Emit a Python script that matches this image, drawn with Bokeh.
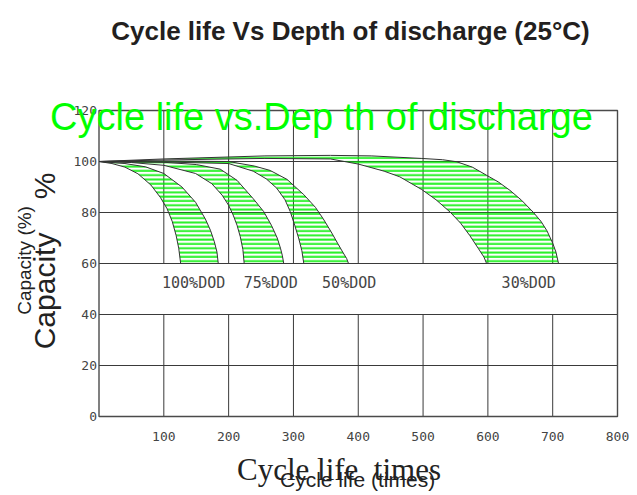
from bokeh.plotting import figure
from bokeh.models import Range1d
from bokeh.core.properties import value
from bokeh.embed import file_html
from bokeh.resources import INLINE

# ---------------- data ----------------
x_ticks = [100, 200, 300, 400, 500, 600, 700, 800]
y_ticks = [0, 20, 40, 60, 80, 100, 120]

dod_names = ["100%DOD", "75%DOD", "50%DOD", "30%DOD"]
dod_label_x = [146, 265, 386, 663]

inner_100_x = [0, 20, 40, 60, 80, 95, 105, 113, 119, 123, 126]
inner_100_y = [100, 99.2, 97.8, 95.2, 90.8, 85.8, 81.5, 76.5, 71, 66, 60]
outer_100_x = [0, 40, 72, 100, 128, 149, 164, 172, 178, 182, 184]
outer_100_y = [100, 99.2, 97.9, 95.3, 90, 84, 77.5, 73, 68.5, 64.5, 60]

inner_75_x = [0, 50, 100, 149, 174, 190, 200, 207, 213, 218, 222, 224]
inner_75_y = [100, 99.6, 98.5, 95.3, 91.3, 86.8, 82.8, 79, 75, 70.5, 65.5, 60]
outer_75_x = [0, 100, 150, 187, 213, 238, 254, 266, 275, 280, 283, 285]
outer_75_y = [100, 99.7, 98.8, 97, 92.6, 85.4, 80.4, 75, 70, 66, 63, 60]

inner_50_x = [0, 100, 200, 238, 258, 274, 287, 295, 302, 308, 313, 316]
inner_50_y = [100, 99.8, 99.2, 96.2, 93.2, 89.6, 85, 80.4, 75, 70, 65, 60]
outer_50_x = [0, 100, 200, 240, 264, 290, 316, 334, 346, 358, 368, 376, 382, 385]
outer_50_y = [100, 100.2, 100, 98.2, 96.5, 93, 87, 82, 77.5, 72.5, 68, 64.5, 62, 60]

inner_30_x = [0, 100, 256, 357, 400, 440, 464, 498, 520, 542, 558, 572, 585, 594, 598]
inner_30_y = [100, 100.6, 101.2, 101, 99, 96.2, 94, 89, 85, 80.1, 75.8, 71, 66, 62.5, 60]
outer_30_x = [0, 100, 256, 357, 420, 498, 530, 552, 576, 598, 616, 634, 652, 670, 682, 691, 700, 705, 709]
outer_30_y = [100, 101, 102.2, 102.4, 102.2, 101.2, 100.7, 99.9, 97.8, 94.6, 92, 88.7, 84.8, 80.1, 76.5, 72.9, 68, 64.5, 60]

bands = [
    (inner_100_x, inner_100_y, outer_100_x, outer_100_y),
    (inner_75_x, inner_75_y, outer_75_x, outer_75_y),
    (inner_50_x, inner_50_y, outer_50_x, outer_50_y),
    (inner_30_x, inner_30_y, outer_30_x, outer_30_y),
]

X_MIN, X_MAX = 0, 800
Y_MIN, Y_MAX = 0, 120

# ---------------- figure ----------------
# The plotting frame covers the whole canvas so that the overlapping titles
# (which lie outside the chart box) are not clipped; the chart box itself is
# drawn at x 0..800, y 0..120 in data units.
W, H = 630, 492
LEFT_PX, RIGHT_PX, TOP_PX, BOTTOM_PX = 98.5, 617.0, 110.0, 416.0
sx = (RIGHT_PX - LEFT_PX) / (X_MAX - X_MIN)
sy = (BOTTOM_PX - TOP_PX) / (Y_MAX - Y_MIN)

p = figure(width=W, height=H,
           x_range=Range1d(X_MIN - LEFT_PX / sx, X_MIN + (W - LEFT_PX) / sx),
           y_range=Range1d(Y_MIN - (H - BOTTOM_PX) / sy, Y_MIN + BOTTOM_PX / sy),
           output_backend="svg", toolbar_location=None,
           min_border=0, min_border_left=0, min_border_right=0,
           min_border_top=0, min_border_bottom=0)
p.axis.visible = False
p.grid.visible = False
p.outline_line_color = None
p.background_fill_color = "white"
p.border_fill_color = "white"

GRID = "#3a3a3a"
TICK_FONT = value("DejaVu Sans Mono")
NBSP = "\u00a0"

# horizontal grid lines (full width)
hy = y_ticks[1:-1]
p.segment(x0=[X_MIN] * len(hy), y0=hy, x1=[X_MAX] * len(hy), y1=hy, line_color=GRID, line_width=1)
# vertical grid lines, interrupted where the DOD labels sit
vx = x_ticks[:-1]
p.segment(x0=vx, y0=[Y_MIN] * len(vx), x1=vx, y1=[40] * len(vx), line_color=GRID, line_width=1)
p.segment(x0=vx, y0=[60] * len(vx), x1=vx, y1=[Y_MAX] * len(vx), line_color=GRID, line_width=1)
# chart box
p.quad(left=[X_MIN], right=[X_MAX], bottom=[Y_MIN], top=[Y_MAX],
       fill_color=None, line_color="#4a4a4a", line_width=1.4)

# tick labels
p.text(x=[X_MIN] * len(y_ticks), y=y_ticks, text=[str(t) for t in y_ticks],
       x_offset=-2, text_align="right", text_baseline="middle",
       text_font=TICK_FONT, text_font_size="13px", text_color="#444444")
p.text(x=x_ticks, y=[Y_MIN] * len(x_ticks), text=[str(t) for t in x_ticks],
       y_offset=20, text_align="center", text_baseline="middle",
       text_font=TICK_FONT, text_font_size="13px", text_color="#444444")

# hatched bands + curves
for ix, iy, ox, oy in bands:
    px = list(ox) + list(ix)[::-1]
    py = list(oy) + list(iy)[::-1]
    p.patch(px, py, fill_alpha=0, line_color=None,
            hatch_pattern="horizontal_line", hatch_color="#00ee00",
            hatch_scale=4.3, hatch_weight=2.0, hatch_alpha=0.85)
    p.line(ix, iy, line_color="#333333", line_width=1)
    p.line(ox, oy, line_color="#333333", line_width=1)

p.text(x=dod_label_x, y=[52.3] * len(dod_names), text=dod_names,
       text_align="center", text_baseline="middle",
       text_font=TICK_FONT, text_font_size="15px", text_color="#454545")

# titles and overlapping axis labels
def txt(x, y, s, font, size, color="#222222", style="normal", angle=0.0,
        align="center", baseline="alphabetic"):
    p.text(x=[x], y=[y], text=[s], angle=angle, text_align=align, text_baseline=baseline,
           text_font=value(font), text_font_size=size, text_font_style=style, text_color=color)

txt(388.0, 151.2, "Cycle life Vs Depth of discharge (25°C)", "Liberation Sans", "26px",
    color="#231f20", style="bold")
txt(-75.5, 117.3, "Cycle life vs.Dep th of discharge", "Liberation Sans", "38px",
    color="#00ff00", align="left")
txt(-114.9, 61.2, "Capacity (%)", "Liberation Sans", "19px", angle=1.5708, baseline="middle")
txt(-84.1, 61.0, "Capacity" + NBSP * 4 + "%", "Liberation Sans", "30px",
    angle=1.5708, baseline="middle")
txt(370.3, -20.8, "Cycle life" + NBSP * 2 + "times", "Liberation Serif", "31px")
txt(399.0, -24.6, "Cycle life (times)", "Liberation Sans", "21px")

open("out.html", "w").write(file_html(p, INLINE))
